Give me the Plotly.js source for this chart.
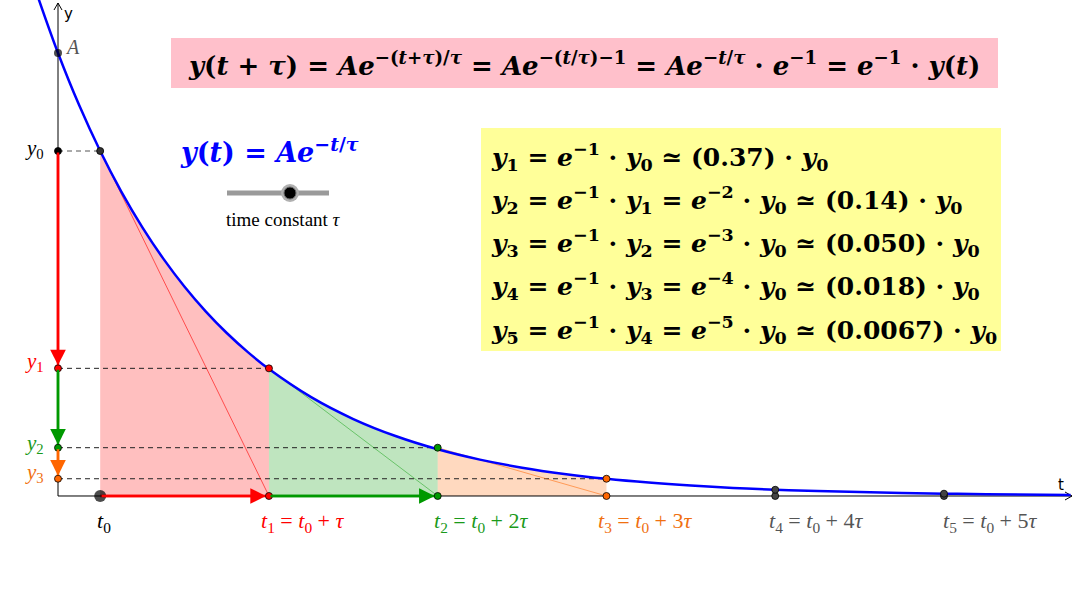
<!DOCTYPE html>
<html><head><meta charset="utf-8">
<script src="https://cdn.plot.ly/plotly-3.0.1.min.js"></script>
<style>html,body{margin:0;padding:0;background:#fff}#chart{width:1074px;height:594px}</style>
</head><body><div id="chart"></div>
<script>
// ---- data ----
const A = 1.284;            // amplitude (y at t = 0)
const tau = 1;              // time constant
const t0 = 0.25;            // start time
const tMarks = [0.25, 1.25, 2.25, 3.25, 4.25, 5.25];          // t0 .. t5
const yMarks = [1.0, 0.37, 0.14, 0.050, 0.018, 0.0067];       // y0 .. y5 (relative to y0)
const curveT = [-0.12, 0, 0.125, 0.25, 0.375, 0.5, 0.625, 0.75, 0.875, 1.0, 1.125, 1.25,
                1.5, 1.75, 2.0, 2.25, 2.5, 2.75, 3.0, 3.25, 3.5, 3.75, 4.0, 4.25, 4.5, 5.0, 5.25, 5.5, 6.0];
const curveY = [1.448, 1.284, 1.133, 1.000, 0.8825, 0.7788, 0.6873, 0.6065, 0.5353, 0.4724, 0.4169, 0.3679,
                0.2865, 0.2231, 0.1738, 0.1353, 0.1054, 0.0821, 0.0639, 0.0498, 0.0388, 0.0302, 0.0235, 0.0183, 0.0143, 0.0087, 0.0067, 0.0052, 0.0032];
const tLabels = ['<i>t</i><sub>0</sub>', '<i>t</i><sub>1</sub> = <i>t</i><sub>0</sub> + <i>τ</i>',
  '<i>t</i><sub>2</sub> = <i>t</i><sub>0</sub> + 2<i>τ</i>', '<i>t</i><sub>3</sub> = <i>t</i><sub>0</sub> + 3<i>τ</i>',
  '<i>t</i><sub>4</sub> = <i>t</i><sub>0</sub> + 4<i>τ</i>', '<i>t</i><sub>5</sub> = <i>t</i><sub>0</sub> + 5<i>τ</i>'];
const yLabels = ['<i>y</i><sub>0</sub>', '<i>y</i><sub>1</sub>', '<i>y</i><sub>2</sub>', '<i>y</i><sub>3</sub>'];
const ratioText = ['0.37', '0.14', '0.050', '0.018', '0.0067'];
const stepColors = ['#000000', '#ff0000', '#009900', '#ff6600', '#444444', '#444444'];
const labelColors = ['#000000', '#ff0000', '#1a9a1a', '#f07010', '#555555', '#555555'];
const fillColors = ['rgba(255,0,0,0.25)', 'rgba(0,153,0,0.25)', 'rgba(255,102,0,0.25)'];
const tangentColors = ['rgba(255,0,0,0.6)', 'rgba(0,153,0,0.45)', 'rgba(255,102,0,0.55)'];

// ---- geometry of the view ----
const W = 1074, H = 594;
const xRange = [-0.3437, 6.0204];
const yRange = [-0.2841, 1.4377];
const P = px => px / W;          // pixel -> paper x
const Q = py => 1 - py / H;      // pixel -> paper y
const dxPx = (xRange[1] - xRange[0]) / W;
const dyPx = (yRange[1] - yRange[0]) / H;
const serif = 'Liberation Serif, DejaVu Serif, serif';
const mathBold = 'DejaVu Serif, Liberation Serif, serif';

const traces = [];
const shapes = [];
const annotations = [];

// shaded regions under curve
for (let k = 0; k < 3; k++) {
  const a = tMarks[k], b = tMarks[k + 1];
  const xs = [a], ys = [0];
  curveT.forEach((t, i) => { if (t >= a - 1e-9 && t <= b + 1e-9) { xs.push(t); ys.push(curveY[i]); } });
  xs.push(b); ys.push(0); xs.push(a); ys.push(0);
  traces.push({x: xs, y: ys, mode: 'lines', fill: 'toself', fillcolor: fillColors[k], line: {width: 0}, hoverinfo: 'skip'});
}
// dashed helper lines
for (let k = 0; k < 4; k++) {
  traces.push({x: [0, tMarks[k]], y: [yMarks[k], yMarks[k]], mode: 'lines',
    line: {color: k === 0 ? '#555' : '#222', width: 1, dash: '5px,4px'}, hoverinfo: 'skip'});
}
// tangents
for (let k = 0; k < 3; k++) {
  traces.push({x: [tMarks[k], tMarks[k + 1]], y: [yMarks[k], 0], mode: 'lines',
    line: {color: tangentColors[k], width: 1}, hoverinfo: 'skip'});
}
// axes
const xe = xRange[1] - 2 * dxPx, ye = yRange[1] - 3 * dyPx;
traces.push({x: [0, 0, xe], y: [ye, 0, 0], mode: 'lines', line: {color: '#000', width: 1}, hoverinfo: 'skip'});
// axis arrowheads (open chevrons)
traces.push({x: [xe - 7 * dxPx, xe, xe - 7 * dxPx], y: [4 * dyPx, 0, -4 * dyPx], mode: 'lines', line: {color: '#000', width: 1}, hoverinfo: 'skip'});
traces.push({x: [-4 * dxPx, 0, 4 * dxPx], y: [ye - 7 * dyPx, ye, ye - 7 * dyPx], mode: 'lines', line: {color: '#000', width: 1}, hoverinfo: 'skip'});
// colored arrow shafts
for (let k = 0; k < 3; k++) {
  traces.push({x: [0, 0], y: [yMarks[k], yMarks[k + 1]], mode: 'lines', line: {color: stepColors[k + 1], width: 2.5}, hoverinfo: 'skip'});
}
for (let k = 0; k < 2; k++) {
  traces.push({x: [tMarks[k], tMarks[k + 1]], y: [0, 0], mode: 'lines', line: {color: stepColors[k + 1], width: 2.5}, hoverinfo: 'skip'});
}
// exponential curve
traces.push({x: curveT, y: curveY, mode: 'lines', line: {color: '#0000ff', width: 2.5, shape: 'spline', smoothing: 1}, hoverinfo: 'skip'});
// points
const ptX = [], ptY = [], ptC = [];
for (let k = 1; k < 6; k++) { ptX.push(tMarks[k]); ptY.push(0); ptC.push(stepColors[k]); }
for (let k = 0; k < 6; k++) { ptX.push(tMarks[k]); ptY.push(yMarks[k]); ptC.push(k === 0 ? '#333' : stepColors[k]); }
for (let k = 0; k < 4; k++) { ptX.push(0); ptY.push(yMarks[k]); ptC.push(stepColors[k]); }
traces.push({x: ptX, y: ptY, mode: 'markers', marker: {size: 7, color: ptC, line: {color: '#000', width: 0.8}}, hoverinfo: 'skip'});
traces.push({x: [0, t0], y: [A, 0], mode: 'markers', marker: {size: [8, 12], color: '#000', line: {color: '#000', width: 0}}, hoverinfo: 'skip'});

// arrow heads via annotations
function arrowHead(x, y, ax, ay, color) {
  annotations.push({x: x, y: y, ax: ax, ay: ay, xref: 'x', yref: 'y', axref: 'x', ayref: 'y', text: '',
    showarrow: true, arrowhead: 2, arrowsize: 1.25, arrowwidth: 2.5, arrowcolor: color, standoff: 0});
}
for (let k = 0; k < 3; k++) arrowHead(0, yMarks[k + 1] + 3 * dyPx, 0, yMarks[k], stepColors[k + 1]);
for (let k = 0; k < 2; k++) arrowHead(tMarks[k + 1] - 3 * dxPx, 0, tMarks[k], 0, stepColors[k + 1]);

// t labels
const tShift = [-5, -10, -6, -10, -8, -3];
for (let k = 0; k < 6; k++) {
  annotations.push({x: tMarks[k], y: 0, xref: 'x', yref: 'y', text: tLabels[k], showarrow: false,
    xanchor: 'left', yanchor: 'middle', xshift: tShift[k], yshift: -26, font: {family: serif, size: 22, color: labelColors[k]}});
}
// y labels
const yShift = [2, 6, 4, 6];
for (let k = 0; k < 4; k++) {
  annotations.push({x: 0, y: yMarks[k], xref: 'x', yref: 'y', text: yLabels[k], showarrow: false,
    xanchor: 'right', yanchor: 'middle', xshift: -12, yshift: yShift[k], font: {family: serif, size: 21, color: labelColors[k]}});
}
annotations.push({x: 0, y: A, xref: 'x', yref: 'y', text: '<i>A</i>', showarrow: false, xanchor: 'left', yanchor: 'middle',
  xshift: 5, yshift: 6, font: {family: serif, size: 20, color: '#555'}});
annotations.push({x: P(62), y: Q(14), xref: 'paper', yref: 'paper', text: 'y', showarrow: false, xanchor: 'left', yanchor: 'middle',
  font: {family: 'DejaVu Sans, sans-serif', size: 15, color: '#000'}});
annotations.push({x: P(1061), y: Q(485), xref: 'paper', yref: 'paper', text: 't', showarrow: false, xanchor: 'center', yanchor: 'middle',
  font: {family: 'DejaVu Sans, sans-serif', size: 15, color: '#000'}});

// pink box with identity
shapes.push({type: 'rect', xref: 'paper', yref: 'paper', x0: P(171), x1: P(998), y0: Q(88), y1: Q(38), fillcolor: '#ffc0cb', line: {width: 0}, layer: 'below'});
annotations.push({x: P(584), y: Q(64), xref: 'paper', yref: 'paper', showarrow: false, xanchor: 'center', yanchor: 'middle',
  text: '<b><i>y</i>(<i>t</i> + <i>τ</i>) = <i>Ae</i><sup>−(<i>t</i>+<i>τ</i>)/<i>τ</i></sup> = <i>Ae</i><sup>−(<i>t</i>/<i>τ</i>)−1</sup> = <i>Ae</i><sup>−<i>t</i>/<i>τ</i></sup> · <i>e</i><sup>−1</sup> = <i>e</i><sup>−1</sup> · <i>y</i>(<i>t</i>)</b>',
  font: {family: mathBold, size: 26, color: '#000'}});

// blue formula
annotations.push({x: P(178), y: Q(150), xref: 'paper', yref: 'paper', showarrow: false, xanchor: 'left', yanchor: 'middle',
  text: '<b><i>y</i>(<i>t</i>) = <i>Ae</i><sup>−<i>t</i>/<i>τ</i></sup></b>', font: {family: mathBold, size: 27, color: '#0000ff'}});

// slider
shapes.push({type: 'line', xref: 'paper', yref: 'paper', x0: P(227), x1: P(329), y0: Q(193), y1: Q(193), line: {color: '#9a9a9a', width: 5}});
shapes.push({type: 'circle', xref: 'paper', yref: 'paper', x0: P(281), x1: P(299), y0: Q(202), y1: Q(184), fillcolor: '#b0b0b0', line: {width: 0}});
shapes.push({type: 'circle', xref: 'paper', yref: 'paper', x0: P(284), x1: P(296), y0: Q(199), y1: Q(187), fillcolor: '#000', line: {color: '#666', width: 1}});
annotations.push({x: P(283), y: Q(219), xref: 'paper', yref: 'paper', showarrow: false, xanchor: 'center', yanchor: 'middle',
  text: 'time constant <i>τ</i>', font: {family: serif, size: 19, color: '#000'}});

// yellow box
shapes.push({type: 'rect', xref: 'paper', yref: 'paper', x0: P(481), x1: P(1001), y0: Q(351), y1: Q(128), fillcolor: '#ffff99', line: {width: 0}, layer: 'below'});
const lineY = [157, 200, 243, 286, 330];
for (let k = 0; k < 5; k++) {
  const n = k + 1;
  let txt = '<i>y</i><sub>' + n + '</sub> = <i>e</i><sup>−1</sup> · <i>y</i><sub>' + (n - 1) + '</sub>';
  if (n > 1) txt += ' = <i>e</i><sup>−' + n + '</sup> · <i>y</i><sub>0</sub>';
  txt += ' ≃ (' + ratioText[k] + ') · <i>y</i><sub>0</sub>';
  annotations.push({x: P(489), y: Q(lineY[k]), xref: 'paper', yref: 'paper', showarrow: false, xanchor: 'left', yanchor: 'middle',
    text: '<b>' + txt + '</b>', font: {family: mathBold, size: 25, color: '#000'}});
}

const layout = {
  width: W, height: H, margin: {l: 0, r: 0, t: 0, b: 0}, showlegend: false,
  paper_bgcolor: '#fff', plot_bgcolor: '#fff',
  xaxis: {range: xRange, visible: false, fixedrange: true},
  yaxis: {range: yRange, visible: false, fixedrange: true},
  shapes: shapes, annotations: annotations
};
Plotly.newPlot('chart', traces, layout, {staticPlot: true, displayModeBar: false});
</script></body></html>
